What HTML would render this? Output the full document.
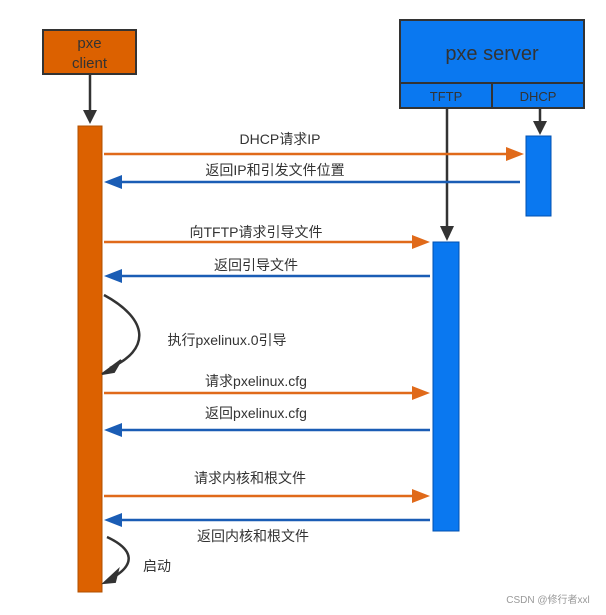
<!DOCTYPE html>
<html><head><meta charset="utf-8"><style>
html,body{margin:0;padding:0;background:#fff;}
text{font-family:"Liberation Sans","Noto Sans CJK SC",sans-serif;fill:#333;}
</style></head><body>
<svg width="606" height="610" viewBox="0 0 606 610" xmlns="http://www.w3.org/2000/svg">
<defs>
<marker id="ao" markerWidth="10" markerHeight="8" refX="9" refY="4" orient="auto" markerUnits="userSpaceOnUse"><path d="M0,0 L22,4 L0,8 Z" fill="#e06a1a" transform="scale(0.45,1)"/></marker>
</defs>
<!-- client box -->
<rect x="43" y="30" width="93" height="44" fill="#dc6100" stroke="#333" stroke-width="2"/>
<text x="89.5" y="48" font-size="15" text-anchor="middle">pxe</text>
<text x="89.5" y="68" font-size="15" text-anchor="middle">client</text>
<line x1="90" y1="74" x2="90" y2="112" stroke="#333" stroke-width="2.5"/>
<path d="M83,110 L97,110 L90,124 Z" fill="#333"/>
<rect x="78" y="126" width="24" height="466" fill="#dc6100" stroke="#b05000" stroke-width="1"/>
<!-- server -->
<rect x="400" y="20" width="184" height="88" fill="#0a78f0" stroke="#333" stroke-width="2"/>
<line x1="400" y1="83" x2="584" y2="83" stroke="#333" stroke-width="2"/>
<line x1="492" y1="83" x2="492" y2="108" stroke="#333" stroke-width="2"/>
<text x="492" y="60" font-size="20" text-anchor="middle">pxe server</text>
<text x="446" y="101" font-size="13" text-anchor="middle">TFTP</text>
<text x="538" y="101" font-size="13" text-anchor="middle">DHCP</text>
<line x1="540" y1="108" x2="540" y2="124" stroke="#333" stroke-width="2.5"/>
<path d="M533,121 L547,121 L540,135 Z" fill="#333"/>
<rect x="526" y="136" width="25" height="80" fill="#0a78f0" stroke="#0050b0" stroke-width="1"/>
<line x1="447" y1="108" x2="447" y2="228" stroke="#333" stroke-width="2.5"/>
<path d="M440,226 L454,226 L447,241 Z" fill="#333"/>
<rect x="433" y="242" width="26" height="289" fill="#0a78f0" stroke="#0050b0" stroke-width="1"/>
<!-- messages -->
<g stroke-width="2.5" fill="none">
<line x1="104" y1="154" x2="508" y2="154" stroke="#e06a1a"/>
<line x1="520" y1="182" x2="120" y2="182" stroke="#1a5db5"/>
<line x1="104" y1="242" x2="414" y2="242" stroke="#e06a1a"/>
<line x1="430" y1="276" x2="120" y2="276" stroke="#1a5db5"/>
<line x1="104" y1="393" x2="414" y2="393" stroke="#e06a1a"/>
<line x1="430" y1="430" x2="120" y2="430" stroke="#1a5db5"/>
<line x1="104" y1="496" x2="414" y2="496" stroke="#e06a1a"/>
<line x1="430" y1="520" x2="120" y2="520" stroke="#1a5db5"/>
</g>
<g fill="#e06a1a">
<path d="M506,147 L524,154 L506,161 Z"/>
<path d="M412,235 L430,242 L412,249 Z"/>
<path d="M412,386 L430,393 L412,400 Z"/>
<path d="M412,489 L430,496 L412,503 Z"/>
</g>
<g fill="#1a5db5">
<path d="M122,175 L104,182 L122,189 Z"/>
<path d="M122,269 L104,276 L122,283 Z"/>
<path d="M122,423 L104,430 L122,437 Z"/>
<path d="M122,513 L104,520 L122,527 Z"/>
</g>
<!-- self loops -->
<path d="M104,295 C150,320 150,350 110,368" stroke="#333" stroke-width="2.5" fill="none"/>
<path d="M102,374 L121,360 L114,372 Z" fill="#333" stroke="#333" stroke-width="2"/>
<path d="M107,537 C135,550 135,565 112,578" stroke="#333" stroke-width="2.5" fill="none"/>
<path d="M104,583 L118,570 L115,582 Z" fill="#333" stroke="#333" stroke-width="2"/>
<g font-size="14" text-anchor="middle">
<text x="280" y="144">DHCP请求IP</text>
<text x="275" y="175">返回IP和引发文件位置</text>
<text x="256" y="237">向TFTP请求引导文件</text>
<text x="256" y="270">返回引导文件</text>
<text x="227" y="345">执行pxelinux.0引导</text>
<text x="256" y="386">请求pxelinux.cfg</text>
<text x="256" y="418">返回pxelinux.cfg</text>
<text x="250" y="483">请求内核和根文件</text>
<text x="253" y="541">返回内核和根文件</text>
<text x="157" y="571">启动</text>
</g>
<text x="548" y="603" font-size="10" text-anchor="middle" fill="#999" style="fill:#999">CSDN @修行者xxl</text>
</svg>
</body></html>
